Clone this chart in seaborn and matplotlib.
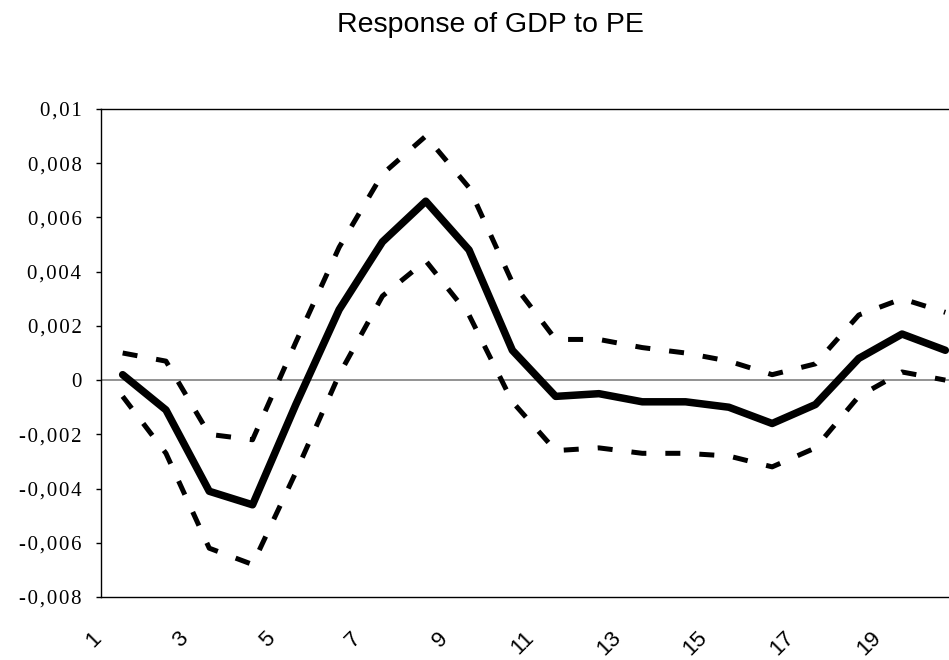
import numpy as np
import pandas as pd
import seaborn as sns
import matplotlib.pyplot as plt
from matplotlib.ticker import FuncFormatter
from matplotlib.transforms import ScaledTranslation

# impulse response: periods, response and confidence bands
periods = list(range(1, 21))
response = [0.0002, -0.0011, -0.0041, -0.0046, -0.0009, 0.0026, 0.0051, 0.0066, 0.0048, 0.0011,
            -0.0006, -0.0005, -0.0008, -0.0008, -0.0010, -0.0016, -0.0009, 0.0008, 0.0017, 0.0011]
upper = [0.0010, 0.0007, -0.0020, -0.0022, 0.0014, 0.0049, 0.0076, 0.0090, 0.0071, 0.0036,
         0.0015, 0.0015, 0.0012, 0.0010, 0.0007, 0.0002, 0.0006, 0.0024, 0.0030, 0.0025]
lower = [-0.0006, -0.0027, -0.0062, -0.0068, -0.0034, 0.0002, 0.0031, 0.0044, 0.0024, -0.0008,
         -0.0026, -0.0025, -0.0027, -0.0027, -0.0028, -0.0032, -0.0025, -0.0006, 0.0003, 0.0000]
y_ticks = [-0.008, -0.006, -0.004, -0.002, 0, 0.002, 0.004, 0.006, 0.008, 0.01]
x_ticks = [1, 3, 5, 7, 9, 11, 13, 15, 17, 19]

df = pd.DataFrame({"period": periods, "response": response, "upper": upper, "lower": lower})

sns.set_style("white")
plt.rcParams["font.family"] = ["Liberation Sans", "DejaVu Sans"]
plt.rcParams["text.color"] = "black"
plt.rcParams["xtick.color"] = "black"
plt.rcParams["ytick.color"] = "black"
plt.rcParams["xtick.labelcolor"] = "black"
plt.rcParams["ytick.labelcolor"] = "black"


def comma_fmt(v, pos):
    s = ("%g" % round(v, 4)).replace(".", ",")
    # the original labels are spaced out a little
    return "\u200a".join(s)


fig = plt.figure(figsize=(9.49, 6.60), dpi=100)
# plot area runs past the right edge of the picture, like the original
ax = fig.add_axes([101 / 949, 63 / 660, 866 / 949, 488 / 660])

ax.axhline(0, color="#808080", lw=1.2, zorder=1)

dash = (0, (3.0, 3.8))
sns.lineplot(data=df, x="period", y="upper", color="black", lw=3.6, linestyle=dash, ax=ax)
sns.lineplot(data=df, x="period", y="lower", color="black", lw=3.6, linestyle=dash, ax=ax)
sns.lineplot(data=df, x="period", y="response", color="black", lw=5.4, ax=ax)

ax.set_xlim(0.5, 20.5)
ax.set_ylim(-0.008, 0.01)
ax.set_yticks(y_ticks)
ax.yaxis.set_major_formatter(FuncFormatter(comma_fmt))
ax.set_xticks(x_ticks)
ax.set_xticklabels([str(t) for t in x_ticks])
ax.set_xlabel("")
ax.set_ylabel("")

for s in ax.spines.values():
    s.set_color("black")
    s.set_linewidth(1.0)

ax.tick_params(axis="y", which="major", left=True, direction="out", length=3.6, width=1.0,
               color="black", pad=10.5, labelsize=15, labelcolor="black")
ax.tick_params(axis="x", which="major", bottom=False, length=0, pad=22, labelsize=16,
               labelcolor="black")
for lab in ax.get_yticklabels():
    lab.set_family(["Liberation Serif", "DejaVu Serif"])
offset = ScaledTranslation(-17 / 100, 0, fig.dpi_scale_trans)
for lab in ax.get_xticklabels():
    lab.set_rotation(45)
    lab.set_ha("right")
    lab.set_va("top")
    lab.set_transform(lab.get_transform() + offset)

fig.text(490 / 949, 1 - 31.7 / 660, "Response of GDP to PE", ha="center", va="baseline",
         fontsize=20.5, color="black")

fig.savefig("out.png", dpi=100)
